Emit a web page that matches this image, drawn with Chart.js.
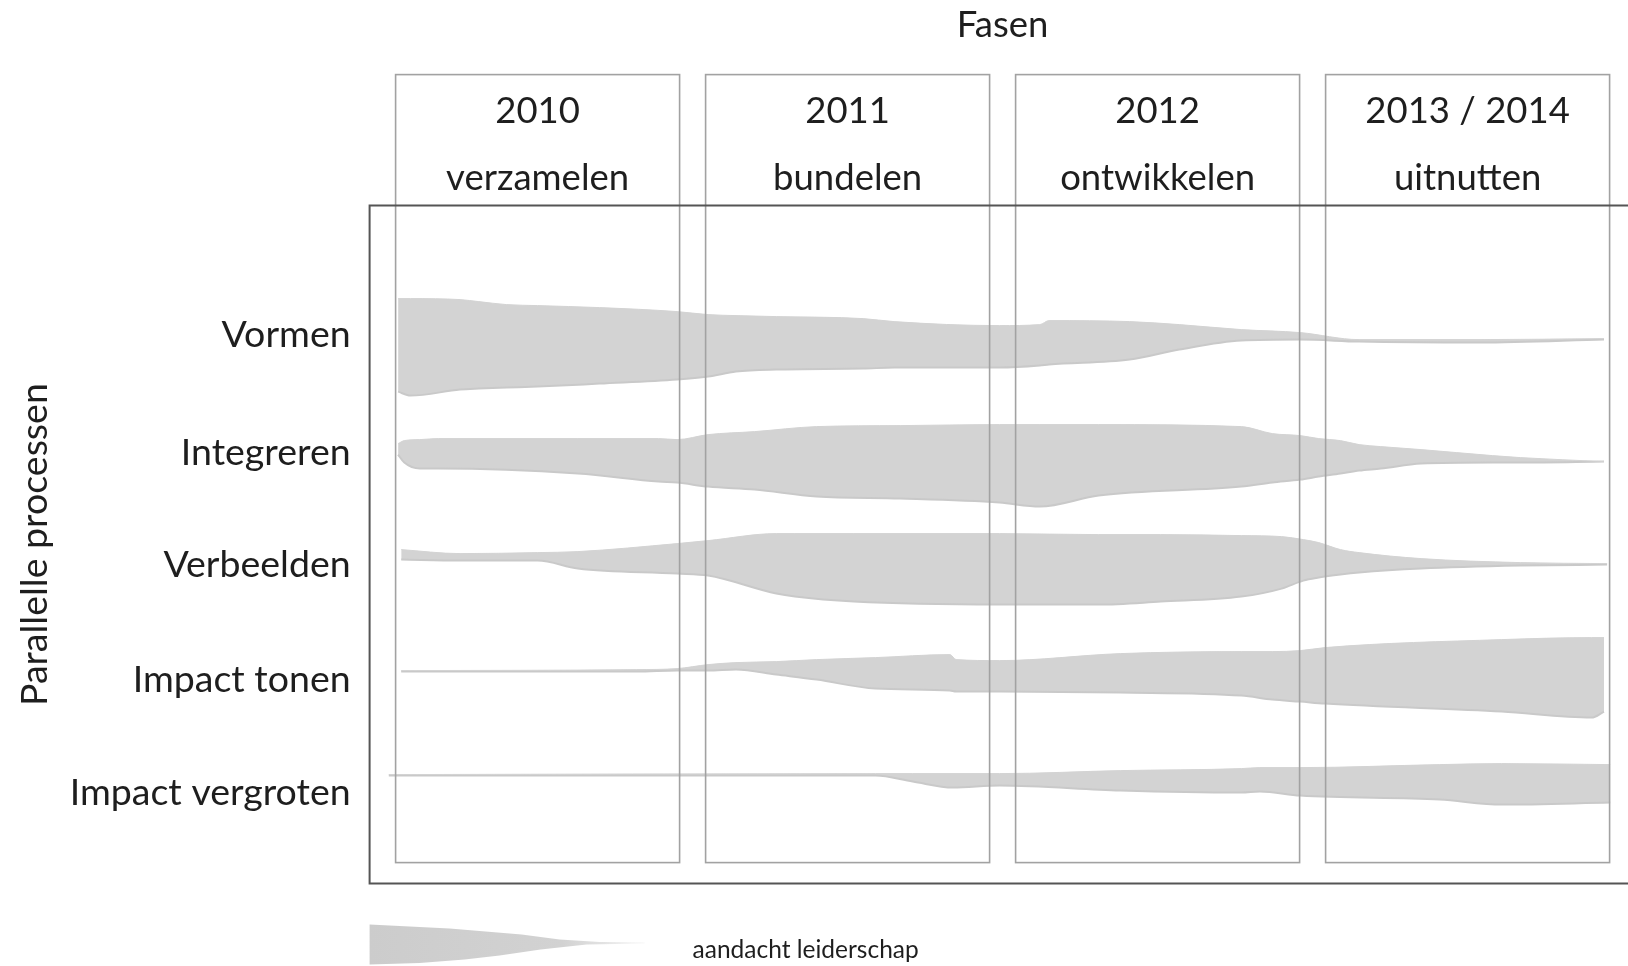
<!DOCTYPE html>
<html>
<head>
<meta charset="utf-8">
<title>Fasen en parallelle processen</title>
<script src="https://cdn.jsdelivr.net/npm/chart.js@4.4.0/dist/chart.umd.min.js"></script>
<style>
  html, body { margin: 0; padding: 0; background: #fff; }
  #wrap { width: 1628px; height: 966px; }
</style>
</head>
<body>
<div id="wrap"><canvas id="streams" width="1628" height="966"></canvas></div>
<script>
// phases (x axis)
const phaseStarts = [2010, 2011, 2012, 2013];
const phaseYears = ['2010', '2011', '2012', '2013 / 2014'];
const phaseNames = ['verzamelen', 'bundelen', 'ontwikkelen', 'uitnutten'];

// processes (y axis)
const processLabels = ['Vormen', 'Integreren', 'Verbeelden', 'Impact tonen', 'Impact vergroten'];
const rowPositions = [54.9, 43.1, 31.9, 20.4, 9.1];

// band edges (x in years, y in axis units)
const vormenX = [2010.05, 2010.09, 2010.25, 2010.31, 2010.40, 2010.50, 2010.70, 2010.95, 2011.05, 2011.14, 2011.27, 2011.55, 2011.65, 2011.99, 2012.12, 2012.15, 2012.41, 2012.57, 2012.77, 2012.96, 2013.15, 2013.54, 2013.94];
const vormenTop = [58.5, 58.5, 58.4, 58.2, 57.9, 57.8, 57.6, 57.2, 56.9, 56.8, 56.7, 56.5, 56.2, 55.8, 55.9, 56.3, 56.2, 55.9, 55.4, 55.1, 54.4, 54.4, 54.5];
const vormenBottom = [49.2, 48.8, 49.4, 49.5, 49.6, 49.7, 50.0, 50.4, 50.7, 51.2, 51.4, 51.5, 51.6, 51.6, 51.8, 51.9, 52.4, 53.4, 54.3, 54.4, 54.2, 54.1, 54.4];

const integrerenX = [2010.05, 2010.07, 2010.12, 2010.18, 2010.63, 2010.89, 2010.95, 2011.05, 2011.20, 2011.40, 2011.67, 2011.99, 2012.12, 2012.31, 2012.77, 2012.87, 2012.96, 2013.02, 2013.09, 2013.15, 2013.22, 2013.35, 2013.58, 2013.67, 2013.94];
const integrerenTop = [44.0, 44.3, 44.4, 44.5, 44.5, 44.5, 44.4, 44.9, 45.2, 45.7, 45.8, 45.9, 45.9, 45.9, 45.7, 45.0, 44.8, 44.5, 44.3, 43.9, 43.7, 43.4, 42.8, 42.6, 42.2];
const integrerenBottom = [42.9, 42.1, 41.5, 41.5, 41.0, 40.2, 40.1, 39.7, 39.4, 38.7, 38.5, 38.1, 37.7, 38.8, 39.7, 40.1, 40.4, 40.7, 41.0, 41.3, 41.5, 42.0, 42.1, 42.1, 42.2];

const verbeeldenX = [2010.06, 2010.25, 2010.50, 2010.63, 2010.95, 2011.05, 2011.27, 2011.33, 2011.52, 2011.99, 2012.31, 2012.51, 2012.77, 2012.90, 2012.97, 2013.02, 2013.09, 2013.15, 2013.35, 2013.67, 2013.95];
const verbeeldenTop = [33.4, 33.0, 33.1, 33.2, 34.0, 34.3, 35.0, 35.0, 35.0, 35.0, 34.9, 34.9, 34.8, 34.7, 34.4, 34.1, 33.4, 33.1, 32.5, 32.1, 32.0];
const verbeeldenBottom = [32.4, 32.3, 32.3, 31.5, 31.0, 30.8, 29.0, 28.7, 28.2, 27.9, 27.9, 28.2, 28.7, 29.5, 30.3, 30.6, 30.9, 31.1, 31.5, 31.8, 31.9];

const tonenX = [2010.06, 2010.82, 2010.95, 2011.05, 2011.14, 2011.27, 2011.40, 2011.59, 2011.83, 2011.85, 2011.99, 2012.38, 2012.77, 2012.87, 2012.96, 2013.04, 2013.61, 2013.90, 2013.94];
const tonenTop = [21.3, 21.4, 21.5, 21.9, 22.1, 22.2, 22.4, 22.6, 22.9, 22.4, 22.3, 23.0, 23.2, 23.2, 23.3, 23.6, 24.4, 24.6, 24.6];
const tonenBottom = [21.2, 21.2, 21.3, 21.3, 21.4, 20.9, 20.4, 19.5, 19.3, 19.2, 19.2, 19.1, 18.8, 18.4, 18.2, 18.0, 17.2, 16.6, 17.2];

const vergrotenX = [2010.02, 2011.59, 2011.71, 2011.84, 2011.99, 2012.38, 2012.77, 2012.83, 2012.96, 2013.41, 2013.61, 2013.96];
const vergrotenTop = [10.9, 11.0, 11.0, 11.0, 11.0, 11.3, 11.5, 11.6, 11.6, 11.9, 12.0, 11.9];
const vergrotenBottom = [10.8, 10.8, 10.2, 9.6, 9.8, 9.3, 9.1, 9.2, 8.8, 8.4, 7.9, 8.1];

const FONT = 'Lato';
const TEXT = '#1e1e1e';
const BAND = '#d3d3d3';

function points(xs, ys) {
    return xs.map((x, i) => ({ x, y: ys[i] }));
}

// two line datasets per process, the lower one filled up to the upper one
function band(name, xs, top, bottom) {
    const common = {
        pointRadius: 0,
        pointHoverRadius: 0,
        cubicInterpolationMode: 'monotone'
    };
    return [
        { ...common, label: name + ' boven', data: points(xs, top), borderColor: BAND, borderWidth: 1, fill: false },
        { ...common, label: name, data: points(xs, bottom), borderColor: '#c9c9c9', borderWidth: 2, backgroundColor: BAND, fill: '-1' }
    ];
}

const datasets = [
    ...band('Vormen', vormenX, vormenTop, vormenBottom),
    ...band('Integreren', integrerenX, integrerenTop, integrerenBottom),
    ...band('Verbeelden', verbeeldenX, verbeeldenTop, verbeeldenBottom),
    ...band('Impact tonen', tonenX, tonenTop, tonenBottom),
    ...band('Impact vergroten', vergrotenX, vergrotenTop, vergrotenBottom)
];

// phase boxes + outer frame, drawn over the bands
const phaseFrames = {
    id: 'phaseFrames',
    afterDatasetsDraw(chart) {
        const { ctx, chartArea, scales } = chart;
        const x = scales.x;
        const boxTop = chartArea.top - 131;
        const boxBottom = chartArea.bottom - 21;
        ctx.save();
        ctx.strokeStyle = '#a2a2a2';
        ctx.lineWidth = 1.6;
        phaseStarts.forEach(s => {
            const l = x.getPixelForValue(s) + 13;
            const r = x.getPixelForValue(s + 1) - 13;
            ctx.strokeRect(l, boxTop, r - l, boxBottom - boxTop);
        });
        ctx.strokeStyle = '#555';
        ctx.lineWidth = 2;
        ctx.beginPath();
        ctx.moveTo(chart.width, chartArea.top);
        ctx.lineTo(chartArea.left - 13, chartArea.top);
        ctx.lineTo(chartArea.left - 13, chartArea.bottom);
        ctx.lineTo(chart.width, chartArea.bottom);
        ctx.stroke();
        ctx.restore();
    }
};

// legend: tapering band + caption
const attentionLegend = {
    id: 'attentionLegend',
    afterDraw(chart) {
        const { ctx, chartArea } = chart;
        const x0 = chartArea.left - 13;
        const y0 = chartArea.bottom + 41;
        ctx.save();
        const g = ctx.createLinearGradient(x0, 0, x0 + 275, 0);
        g.addColorStop(0, '#cccccc');
        g.addColorStop(0.7, '#d2d2d2');
        g.addColorStop(0.85, '#e2e2e2');
        g.addColorStop(1, 'rgba(235,235,235,0.3)');
        ctx.fillStyle = g;
        ctx.beginPath();
        ctx.moveTo(x0, y0);
        ctx.lineTo(x0 + 80, y0 + 4);
        ctx.lineTo(x0 + 152, y0 + 10);
        ctx.lineTo(x0 + 190, y0 + 15);
        ctx.lineTo(x0 + 230, y0 + 17.3);
        ctx.lineTo(x0 + 275, y0 + 17.7);
        ctx.lineTo(x0 + 275, y0 + 19);
        ctx.lineTo(x0 + 217, y0 + 20);
        ctx.lineTo(x0 + 171, y0 + 25);
        ctx.lineTo(x0 + 130, y0 + 31);
        ctx.lineTo(x0 + 95, y0 + 35);
        ctx.lineTo(x0 + 50, y0 + 38.5);
        ctx.lineTo(x0, y0 + 40);
        ctx.closePath();
        ctx.fill();
        ctx.fillStyle = TEXT;
        ctx.font = '24.5px ' + FONT;
        ctx.textBaseline = 'alphabetic';
        ctx.textAlign = 'left';
        ctx.fillText('aandacht leiderschap', x0 + 323, y0 + 33);
        ctx.restore();
    }
};

function draw() {
    new Chart(document.getElementById('streams'), {
        type: 'line',
        data: { datasets },
        options: {
            responsive: false,
            animation: false,
            events: [],
            layout: { padding: { top: 0, left: 0, right: 5.4, bottom: 82.4 } },
            plugins: {
                legend: { display: false },
                tooltip: { enabled: false }
            },
            scales: {
                x: {
                    type: 'linear',
                    position: 'top',
                    min: 2010,
                    max: 2014,
                    grid: { display: false, drawTicks: false },
                    border: { display: false },
                    afterBuildTicks: scale => {
                        scale.ticks = phaseStarts.map(s => ({ value: s + 0.5 }));
                    },
                    afterFit: scale => { scale.height = 205.6; },
                    ticks: {
                        autoSkip: false,
                        maxRotation: 0,
                        minRotation: 0,
                        padding: -6,
                        color: TEXT,
                        font: { family: FONT, size: 36.5, lineHeight: 1.835 },
                        callback: (value, i) => [phaseYears[i], phaseNames[i]]
                    },
                    title: {
                        display: true,
                        text: 'Fasen',
                        color: TEXT,
                        font: { family: FONT, size: 36.5, lineHeight: 1.2 },
                        padding: { top: 3, bottom: 0 }
                    }
                },
                y: {
                    type: 'linear',
                    min: 0,
                    max: 67.8,
                    grid: { display: false, drawTicks: false },
                    border: { display: false },
                    afterBuildTicks: scale => {
                        scale.ticks = rowPositions.map(v => ({ value: v }));
                    },
                    afterFit: scale => { scale.width = 382.6; },
                    ticks: {
                        autoSkip: false,
                        padding: 32,
                        color: TEXT,
                        font: { family: FONT, size: 37.5 },
                        callback: (value, i) => processLabels[i]
                    },
                    title: {
                        display: true,
                        text: 'Parallelle processen',
                        color: TEXT,
                        font: { family: FONT, size: 37.5, lineHeight: 1.2 },
                        padding: { top: 12, bottom: 0 }
                    }
                }
            }
        },
        plugins: [phaseFrames, attentionLegend]
    });
}

document.fonts.load('36px ' + FONT).then(draw, draw);
</script>
</body>
</html>
